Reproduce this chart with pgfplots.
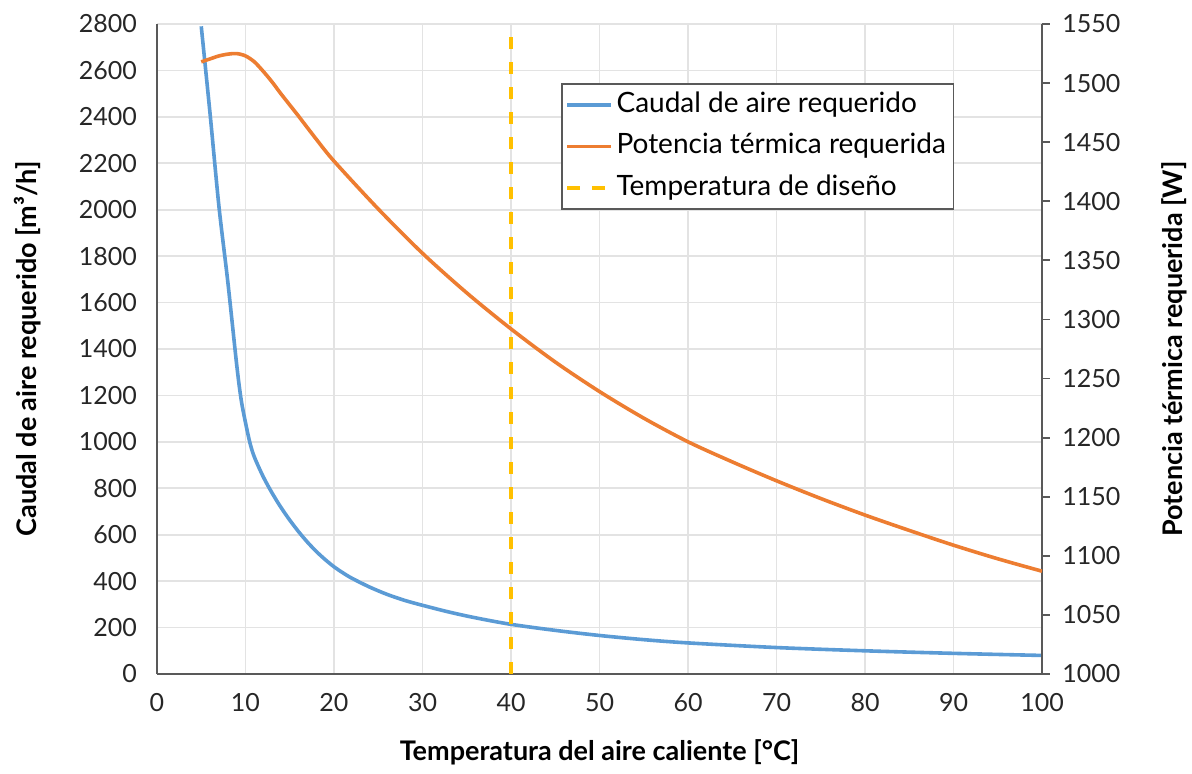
\documentclass[border=0pt]{standalone}
\usepackage{fontspec}
\setmainfont{Lato}
\usepackage{pgfplots}
\pgfplotsset{compat=1.18}

\definecolor{caudal}{HTML}{5B9BD5}
\definecolor{potencia}{HTML}{ED7D31}
\definecolor{diseno}{HTML}{FFC000}
\definecolor{ejes}{HTML}{595959}
\definecolor{rejilla}{HTML}{E3E3E3}

\pgfplotsset{
  base/.style={
    scale only axis, width=442.5pt, height=325pt,
    xmin=0, xmax=100,
    axis line style={ejes, line width=0.9pt},
    tick label style={font=\fontsize{12.5}{14}\selectfont, text=black!85,
      /pgf/number format/assume math mode=true},
    /pgf/number format/1000 sep={},
    label style={font=\bfseries\fontsize{13.5}{16}\selectfont, text=black},
  },
}

\begin{document}
\begin{tikzpicture}
\useasboundingbox (-78.5pt,-49.5pt) rectangle (517.5pt,337pt);

% left axis: required air flow
\begin{axis}[base,
  ymin=0, ymax=2800,
  xtick={0,10,...,100}, ytick={0,200,...,2800},
  axis y line*=left, axis x line*=bottom,
  major tick length=0pt,
  grid=major, major grid style={rejilla, line width=0.9pt},
  yticklabel style={xshift=-6.5pt},
  xticklabel style={yshift=-6pt},
  xlabel={Temperatura del aire caliente [°C]},
  ylabel={Caudal de aire requerido [m³/h]},
  xlabel style={at={(axis description cs:0.5,-0.12)}, anchor=center},
  ylabel style={at={(axis description cs:-0.1458,0.5)}, anchor=center},
]
\addplot[caudal, line width=1.8pt, smooth] coordinates {
  (5,2790) (6,2412) (7,2014) (8,1690) (9,1334) (9.5,1184) (10,1083)
  (10.5,996) (11,935) (12,850) (13,780) (14,718) (15,663) (16,613)
  (17,568) (18,528) (19,493) (20,462) (21,436) (22,413) (24,375)
  (26,343) (28,317) (30,296) (33,267) (36,242) (40,214) (45,188)
  (50,166) (55,148) (60,134) (70,114) (80,100) (90,89) (100,80)
};
\addplot[diseno, line width=1.8pt, dash pattern=on 6.25pt off 6.25pt]
  coordinates {(40,0) (40,2800)};
\end{axis}

% right axis: required thermal power
\begin{axis}[base,
  ymin=1000, ymax=1550,
  ytick={1000,1050,...,1550},
  axis y line*=right, axis x line=none,
  ytick style={ejes, line width=0.9pt},
  tick align=outside, major tick length=3.75pt,
  yticklabel style={xshift=2.9pt},
  ylabel={Potencia térmica requerida [W]},
  ylabel style={at={(axis description cs:1.15,0.5)}, anchor=center},
  legend cell align=left,
  legend image code/.code={\draw[#1] (0pt,0pt) -- (21.7pt,0pt);},
  legend style={at={(0.457,0.909)}, anchor=north west,
    draw=ejes, line width=0.7pt, inner sep=1.7pt,
    font=\fontsize{14}{16}\selectfont, text=black,
    row sep=3.35pt, column sep=0pt,
    nodes={inner sep=2pt, text height=10.5pt, text depth=3pt}},
]
\addlegendimage{caudal, line width=1.8pt}
\addlegendentry{Caudal de aire requerido}
\addplot[potencia, line width=1.8pt, smooth] coordinates {
  (5,1518) (6,1520.5) (7,1523) (8,1524.5) (9,1525) (10,1523) (11,1518)
  (12,1510) (13,1501) (14,1491) (15,1481.5) (16,1472) (18,1452.5)
  (20,1434) (25,1393.5) (30,1356) (35,1322.5) (40,1292) (45,1264)
  (50,1239) (55,1216.5) (60,1196.5) (65,1179.5) (70,1163.5) (75,1148.5)
  (80,1134.5) (85,1121.5) (90,1109) (95,1097.5) (100,1087)
};
\addlegendentry{Potencia térmica requerida}
\addlegendimage{diseno, line width=1.8pt, dash pattern=on 6.25pt off 6.25pt}
\addlegendentry{Temperatura de diseño}
\end{axis}
\end{tikzpicture}
\end{document}
